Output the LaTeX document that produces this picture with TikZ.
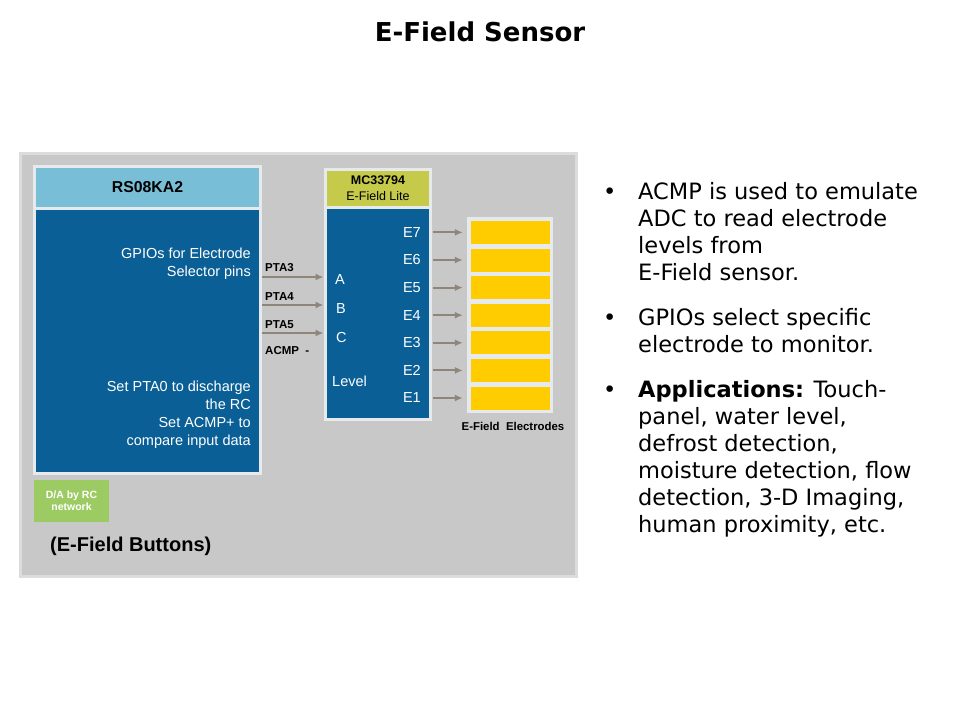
\documentclass[tikz,border=0pt]{standalone}
\usepackage{fontspec}
\usetikzlibrary{arrows.meta}
\setmainfont{Liberation Sans}
\newfontfamily\verdfont{DejaVu Sans}
\definecolor{panelgray}{HTML}{C8C8C8}
\definecolor{panelrim}{HTML}{DCDCDC}
\definecolor{rim}{HTML}{E6EAEC}
\definecolor{chipblue}{HTML}{0A5F96}
\definecolor{headblue}{HTML}{78BED7}
\definecolor{headolive}{HTML}{C6CA4A}
\definecolor{dagreen}{HTML}{9DCB63}
\definecolor{padyellow}{HTML}{FFCC00}
\definecolor{wire}{HTML}{8F857B}
\begin{document}
\begin{tikzpicture}[x=1pt, y=-1pt, >={Latex[length=8pt,width=7pt]},
    blk/.style={anchor=north west, inner sep=0pt, outer sep=0pt, draw=rim, line width=3pt},
    wht/.style={text=white, inner sep=0pt, font=\fontsize{14.5}{17.7}\selectfont},
    pin/.style={anchor=west, inner sep=0pt, font=\bfseries\fontsize{11.5}{14}\selectfont},
    pad/.style={fill=padyellow, minimum width=79pt, minimum height=23pt, inner sep=0pt},
    sig/.style={->, draw=wire, line width=2pt},
    bul/.style={anchor=base west, inner sep=0pt, font=\verdfont\fontsize{22.5}{27}\selectfont},
    txt/.style={anchor=base west, align=left, inner sep=0pt, font=\verdfont\fontsize{22.5}{27}\selectfont}]
    \useasboundingbox (0,0) rectangle (960,720);

    % title
    \node[font=\verdfont\bfseries\fontsize{26}{30}\selectfont] (title) at (480,32) {E-Field Sensor};

    % gray panel
    \node[blk, draw=panelrim, fill=panelgray, minimum width=556pt, minimum height=423pt] (panel) at (20.5,153.5) {};

    % RS08KA2
    \node[blk, fill=headblue, minimum width=226pt, minimum height=42pt,
          font=\bfseries\fontsize{15.8}{18}\selectfont] (rshead) at (34.5,166.5) {RS08KA2};
    \node[blk, fill=chipblue, minimum width=226pt, minimum height=265pt] (rsbody) at (34.5,208.5) {};
    % (base = last line)
    \node[wht, anchor=base east, align=right] (gpio) at (251,276) {GPIOs for Electrode\\Selector pins};
    \node[wht, anchor=base east, align=right] (setpta) at (251,445) {Set PTA0 to discharge\\the RC\\Set ACMP+ to\\compare input data};

    % D/A box and caption
    \node[blk, draw=none, fill=dagreen, minimum width=75pt, minimum height=42pt, align=center,
          text=white, font=\bfseries\fontsize{10.5}{12}\selectfont] (dabox) at (34,480) {D/A by RC\\network};
    \node[anchor=west, inner sep=0pt, font=\bfseries\fontsize{20}{24}\selectfont] (buttons) at (50,546) {(E-Field Buttons)};

    % MC33794
    \node[blk, fill=headolive, minimum width=105pt, minimum height=38pt, align=center,
          font=\fontsize{12.5}{16}\selectfont] (mchead) at (325.5,169.5) {\textbf{MC33794}\\E-Field Lite};
    \node[blk, fill=chipblue, minimum width=105pt, minimum height=212pt] (mcbody) at (325.5,207.5) {};
    \node[wht, anchor=west] (pinA) at (335,280) {A};
    \node[wht, anchor=west] (pinB) at (336,309) {B};
    \node[wht, anchor=west] (pinC) at (336,338) {C};
    \node[wht, anchor=west] (level) at (332,381) {Level};

    % port labels and wires
    \node[pin] (pta3) at (265,268) {PTA3};
    \node[pin] (pta4) at (265,297) {PTA4};
    \node[pin] (pta5) at (265,325) {PTA5};
    \node[pin] (acmp) at (265,351) {ACMP\ \ -};
    \coordinate (w3) at (262,277);
    \coordinate (w4) at (262,305);
    \coordinate (w5) at (262,333);
    \draw[sig] (w3) -- ([xshift=-2pt]w3 -| mcbody.west);
    \draw[sig] (w4) -- ([xshift=-2pt]w4 -| mcbody.west);
    \draw[sig] (w5) -- ([xshift=-2pt]w5 -| mcbody.west);

    % electrodes
    \node[blk, fill=rim, minimum width=83pt, minimum height=193pt] (padframe) at (468.5,218.5) {};
    \foreach \i in {1,...,7} {
        \node[pad] (pad\i) at (510.5,{398-(\i-1)*27.6}) {};
        \node[wht, anchor=east] (e\i) at (421,{398-(\i-1)*27.6}) {E\i};
        \draw[sig] ([xshift=2pt]mcbody.east |- pad\i) -- ([xshift=-8pt]pad\i.west);
    }
    \node[font=\bfseries\fontsize{11.4}{14}\selectfont] (padcap) at (513,426) {E-Field\ \ Electrodes};

    % bullet text (base = last line)
    \node[bul] (b1) at (603,199) {\textbullet};
    \node[txt] (t1) at (638,280) {ACMP is used to emulate\\ADC to read electrode\\levels from\\E-Field sensor.};
    \node[bul] (b2) at (603,325) {\textbullet};
    \node[txt] (t2) at (638,352) {GPIOs select specific\\electrode to monitor.};
    \node[bul] (b3) at (603,397) {\textbullet};
    \node[txt] (t3) at (638,532) {\textbf{Applications:} Touch-\\panel, water level,\\defrost detection,\\moisture detection, flow\\detection, 3-D Imaging,\\human proximity, etc.};
\end{tikzpicture}
\end{document}
